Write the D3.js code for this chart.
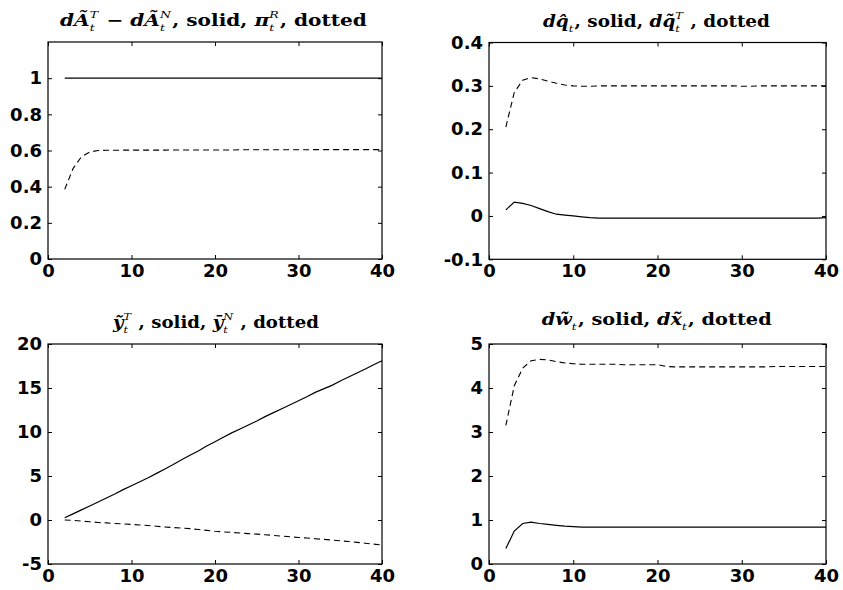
<!DOCTYPE html>
<html><head><meta charset="utf-8">
<script src="https://cdn.jsdelivr.net/npm/d3@7/dist/d3.min.js"></script>
<style>body{margin:0;background:#fff}svg{display:block}</style>
</head><body>
<svg id="c" width="843" height="590"></svg>
<script>
// ---------- data ----------
const periods = [2,3,4,5,6,7,8,9,10,11,12,13,14,15,16,17,18,19,20,21,22,23,24,25,26,27,28,29,30,31,32,33,34,35,36,37,38,39,40];
const xTicks = [0,10,20,30,40];

// top-left
const dA_TminusN = [1,1,1,1,1,1,1,1,1,1,1,1,1,1,1,1,1,1,1,1,1,1,1,1,1,1,1,1,1,1,1,1,1,1,1,1,1,1,1];
const piR = [0.385,0.50,0.565,0.592,0.600,0.601,0.601,0.602,0.602,0.602,0.602,0.602,0.602,0.603,0.603,0.603,0.603,0.603,0.603,0.603,0.603,0.604,0.604,0.604,0.604,0.604,0.604,0.604,0.604,0.604,0.605,0.605,0.605,0.605,0.605,0.605,0.605,0.605,0.605];
const yTicksTL = [0,0.2,0.4,0.6,0.8,1];

// top-right
const dq = [0.014,0.032,0.029,0.024,0.017,0.010,0.004,0.002,0.000,-0.002,-0.004,-0.005,-0.005,-0.005,-0.005,-0.005,-0.005,-0.005,-0.005,-0.005,-0.005,-0.005,-0.005,-0.005,-0.005,-0.005,-0.005,-0.005,-0.005,-0.005,-0.005,-0.005,-0.005,-0.005,-0.005,-0.005,-0.005,-0.005,-0.004];
const dqT = [0.205,0.285,0.313,0.319,0.316,0.311,0.306,0.302,0.300,0.299,0.299,0.300,0.300,0.300,0.300,0.300,0.300,0.300,0.300,0.300,0.300,0.300,0.300,0.300,0.300,0.300,0.300,0.300,0.299,0.299,0.300,0.300,0.300,0.300,0.300,0.300,0.300,0.300,0.300];
const yTicksTR = [-0.1,0,0.1,0.2,0.3,0.4];

// bottom-left
const yT = [0.25,0.7,1.15,1.6,2.05,2.5,2.95,3.45,3.9,4.35,4.8,5.3,5.8,6.3,6.85,7.35,7.85,8.4,8.9,9.4,9.9,10.35,10.8,11.25,11.75,12.2,12.65,13.1,13.55,14.0,14.5,14.9,15.3,15.8,16.25,16.7,17.15,17.65,18.1];
const yN = [0.0,-0.05,-0.12,-0.2,-0.28,-0.33,-0.4,-0.45,-0.5,-0.56,-0.63,-0.71,-0.79,-0.86,-0.92,-0.98,-1.08,-1.18,-1.28,-1.35,-1.41,-1.48,-1.55,-1.61,-1.68,-1.75,-1.83,-1.91,-1.98,-2.05,-2.13,-2.2,-2.28,-2.36,-2.45,-2.54,-2.64,-2.74,-2.85];
const yTicksBL = [-5,0,5,10,15,20];

// bottom-right
const dw = [0.35,0.75,0.92,0.95,0.92,0.90,0.88,0.86,0.85,0.84,0.84,0.84,0.84,0.84,0.84,0.84,0.84,0.84,0.84,0.84,0.84,0.84,0.84,0.84,0.84,0.84,0.84,0.84,0.84,0.84,0.84,0.84,0.84,0.84,0.84,0.84,0.84,0.84,0.84];
const dx = [3.15,4.05,4.45,4.62,4.65,4.64,4.60,4.57,4.55,4.54,4.54,4.54,4.54,4.54,4.53,4.53,4.53,4.53,4.53,4.49,4.48,4.48,4.48,4.48,4.48,4.48,4.48,4.48,4.48,4.48,4.48,4.48,4.49,4.49,4.49,4.49,4.49,4.49,4.49];
const yTicksBR = [0,1,2,3,4,5];

// titles: segments {t, i (italic), sup, sub}
const titleTL = [{t:"d",i:1},{t:"Ã",i:1},{sup:"T",sub:"t"},{t:" − ",i:0},{t:"d",i:1},{t:"Ã",i:1},{sup:"N",sub:"t"},{t:", solid, ",i:0},{t:"π",i:1},{sup:"R",sub:"t"},{t:", dotted",i:0}];
const titleTR = [{t:"d",i:1},{t:"q̂",i:1},{sub:"t"},{t:", solid, ",i:0},{t:"d",i:1},{t:"q̃",i:1},{sup:"T",sub:"t"},{t:" , dotted",i:0}];
const titleBL = [{t:"ỹ",i:1},{sup:"T",sub:"t"},{t:" , solid, ",i:0},{t:"ȳ",i:1},{sup:"N",sub:"t"},{t:" , dotted",i:0}];
const titleBR = [{t:"d",i:1},{t:"w̃",i:1},{sub:"t"},{t:", solid, ",i:0},{t:"d",i:1},{t:"x̃",i:1},{sub:"t"},{t:", dotted",i:0}];

// ---------- layout ----------
const panels = [
  {box:[48,382,42,259], yDom:[0,1.2], yTicks:yTicksTL, solid:dA_TminusN, dashed:piR, title:titleTL, tx:213.5, ty:26, tw:307},
  {box:[489,826,42.5,259.3], yDom:[-0.1,0.4], yTicks:yTicksTR, solid:dq, dashed:dqT, title:titleTR, tx:656.5, ty:27, tw:227},
  {box:[48,382,344,564], yDom:[-5,20], yTicks:yTicksBL, solid:yT, dashed:yN, title:titleBL, tx:216, ty:328, tw:206},
  {box:[489,826,344,564], yDom:[0,5], yTicks:yTicksBR, solid:dw, dashed:dx, title:titleBR, tx:656.7, ty:325, tw:230}
];

const svg = d3.select("#c");
const tickFont = "'DejaVu Sans', sans-serif";
const fmt = d => String(d);

panels.forEach(p => {
  const [L,R,T,B] = p.box;
  const x = d3.scaleLinear().domain([0,40]).range([L,R]);
  const y = d3.scaleLinear().domain(p.yDom).range([B,T]);
  const g = svg.append("g");

  const styleAxis = (sel) => {
    sel.select(".domain").remove();
    sel.selectAll(".tick line").attr("stroke","#000").attr("stroke-width",1);
    sel.selectAll(".tick text").attr("fill","#000").style("font-family",tickFont)
      .style("font-weight","bold").style("font-size","18px");
  };

  g.append("g").attr("transform",`translate(${L},0)`)
    .call(d3.axisLeft(y).tickValues(p.yTicks).tickFormat(fmt).tickSizeInner(-4).tickSizeOuter(0).tickPadding(6))
    .call(styleAxis);
  g.append("g").attr("transform",`translate(${R},0)`)
    .call(d3.axisRight(y).tickValues(p.yTicks).tickFormat("").tickSizeInner(-4).tickSizeOuter(0))
    .call(styleAxis);
  g.append("g").attr("transform",`translate(0,${B})`)
    .call(d3.axisBottom(x).tickValues(xTicks).tickFormat(fmt).tickSizeInner(-4).tickSizeOuter(0).tickPadding(5))
    .call(styleAxis);
  g.append("g").attr("transform",`translate(0,${T})`)
    .call(d3.axisTop(x).tickValues(xTicks).tickFormat("").tickSizeInner(-4).tickSizeOuter(0))
    .call(styleAxis);

  g.append("rect").attr("x",L).attr("y",T).attr("width",R-L).attr("height",B-T)
    .attr("fill","none").attr("stroke","#000").attr("stroke-width",1.2);

  const line = d3.line().x((d,i)=>x(periods[i])).y(d=>y(d));
  g.append("path").datum(p.solid).attr("d",line).attr("fill","none")
    .attr("stroke","#000").attr("stroke-width",1.2);
  g.append("path").datum(p.dashed).attr("d",line).attr("fill","none")
    .attr("stroke","#000").attr("stroke-width",1.1).attr("stroke-dasharray","6,4");

  // title
  const tg = g.append("g");
  let cx = 0;
  const fam = "'DejaVu Serif', 'Liberation Serif', serif";
  p.title.forEach(s => {
    if (s.t !== undefined) {
      const t = tg.append("text").attr("x",cx).attr("y",0).text(s.t)
        .style("font-family",fam).style("font-size","16px")
        .style("font-style", s.i ? "italic" : "normal")
        .style("font-weight","bold").attr("fill","#000")
        .style("white-space","pre");
      cx += t.node().getComputedTextLength();
    } else {
      let w = 0;
      if (s.sup) {
        const t = tg.append("text").attr("x",cx).attr("y",-8).text(s.sup)
          .style("font-family",fam).style("font-size","10px").style("font-style","italic").attr("fill","#000");
        w = Math.max(w, t.node().getComputedTextLength());
      }
      if (s.sub) {
        const t = tg.append("text").attr("x",cx).attr("y",5).text(s.sub)
          .style("font-family",fam).style("font-size","10px").style("font-style","italic").attr("fill","#000");
        w = Math.max(w, t.node().getComputedTextLength());
      }
      cx += w + 1;
    }
  });
  const k = p.tw / cx;
  tg.attr("transform",`translate(${p.tx - p.tw/2},${p.ty}) scale(${k},1)`);
});
</script>
</body></html>
